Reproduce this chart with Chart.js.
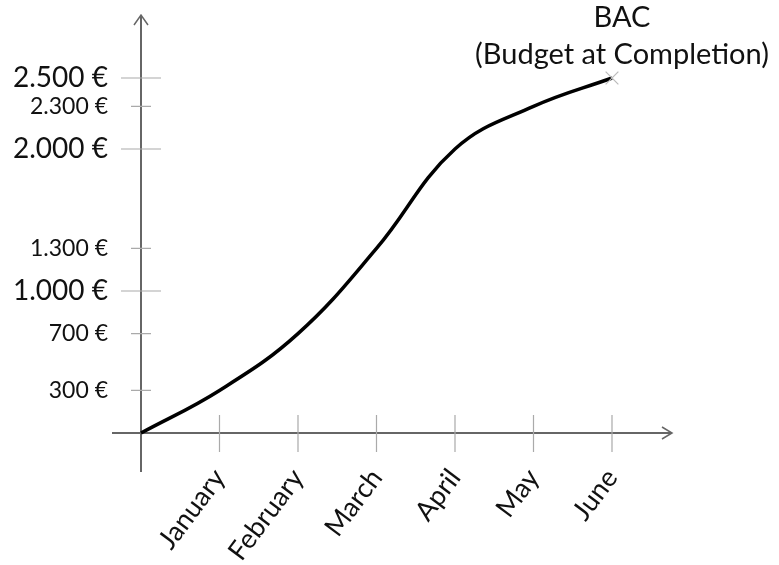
<!DOCTYPE html>
<html>
<head>
<meta charset="utf-8">
<script src="https://cdn.jsdelivr.net/npm/chart.js@4"></script>
<style>
  html, body { margin: 0; padding: 0; background: #fff; }
  canvas { display: block; }
</style>
</head>
<body>
<canvas id="chart" width="779" height="565"></canvas>
<script>
const months = ['', 'January', 'February', 'March', 'April', 'May', 'June'];
const plannedValue = [0, 300, 700, 1300, 2000, 2300, 2500];
const yTickValues = [300, 700, 1000, 1300, 2000, 2300, 2500];
const majorTicks = [1000, 2000, 2500];
const bacTitle = ['BAC', '(Budget at Completion)'];

const FONT = 'Lato';

function euro(v) {
  const s = v >= 1000 ? Math.floor(v / 1000) + '.' + String(v % 1000).padStart(3, '0') : String(v);
  return s + ' €';
}

// axes with arrows + tick marks crossing the axes
const axesPlugin = {
  id: 'axes',
  beforeDatasetsDraw(chart) {
    const { ctx, chartArea, scales } = chart;
    const x0 = scales.x.getPixelForValue(0);
    const y0 = scales.y.getPixelForValue(0);
    ctx.save();
    ctx.strokeStyle = '#666';
    ctx.lineWidth = 2;
    ctx.beginPath();
    // y axis
    ctx.moveTo(x0, y0 + 39);
    ctx.lineTo(x0, 15);
    // x axis
    ctx.moveTo(x0 - 29, y0);
    ctx.lineTo(chartArea.right + 60, y0);
    ctx.stroke();

    ctx.lineWidth = 1.5;
    ctx.beginPath();
    ctx.moveTo(x0 - 7, 25); ctx.lineTo(x0, 15); ctx.lineTo(x0 + 7, 25);
    const xr = chartArea.right + 60;
    ctx.moveTo(xr - 10, y0 - 6); ctx.lineTo(xr, y0); ctx.lineTo(xr - 10, y0 + 6);
    ctx.stroke();

    ctx.strokeStyle = '#aaa';
    ctx.lineWidth = 1.2;
    ctx.beginPath();
    for (let i = 1; i < months.length; i++) {
      const px = scales.x.getPixelForValue(i);
      ctx.moveTo(px, y0 - 18);
      ctx.lineTo(px, y0 + 19);
    }
    yTickValues.forEach(v => {
      const py = scales.y.getPixelForValue(v);
      const half = majorTicks.includes(v) ? 20 : 10;
      ctx.moveTo(x0 - half, py);
      ctx.lineTo(x0 + half, py);
    });
    ctx.stroke();
    ctx.restore();
  },
  afterDatasetsDraw(chart) {
    const { ctx } = chart;
    const pt = chart.getDatasetMeta(0).data[plannedValue.length - 1];
    ctx.save();
    ctx.fillStyle = '#111';
    ctx.textAlign = 'center';
    ctx.textBaseline = 'alphabetic';
    ctx.font = `29px ${FONT}`;
    ctx.fillText(bacTitle[0], pt.x + 10, pt.y - 51);
    ctx.fillText(bacTitle[1], pt.x + 10, pt.y - 14);
    ctx.restore();
  }
};

new Chart(document.getElementById('chart'), {
  type: 'line',
  data: {
    labels: months,
    datasets: [{
      data: plannedValue,
      borderColor: '#000',
      borderWidth: 3.5,
      tension: 0.4,
      fill: false,
      clip: false,
      pointRadius: ctx => ctx.dataIndex === plannedValue.length - 1 ? 9 : 0,
      pointStyle: 'crossRot',
      pointBorderColor: '#bbb',
      pointBorderWidth: 1.2
    }]
  },
  options: {
    responsive: false,
    animation: false,
    layout: { padding: { top: 78, right: 167, left: 0, bottom: 0 } },
    plugins: { legend: { display: false }, tooltip: { enabled: false } },
    scales: {
      x: {
        type: 'category',
        offset: false,
        grid: { display: false },
        border: { display: false },
        afterFit: s => { s.height = 132; },
        ticks: {
          autoSkip: false,
          minRotation: 53,
          maxRotation: 53,
          padding: 22,
          color: '#111',
          font: { family: FONT, size: 27 }
        }
      },
      y: {
        min: 0,
        max: 2500,
        grid: { display: false },
        border: { display: false },
        afterFit: s => { s.width = 141; },
        afterBuildTicks: s => { s.ticks = yTickValues.map(v => ({ value: v })); },
        ticks: {
          padding: 25,
          color: '#111',
          callback: v => euro(v),
          font: ctx => ({ family: FONT, size: majorTicks.includes(ctx.tick && ctx.tick.value) ? 28 : 23 })
        }
      }
    }
  },
  plugins: [axesPlugin]
});
</script>
</body>
</html>
